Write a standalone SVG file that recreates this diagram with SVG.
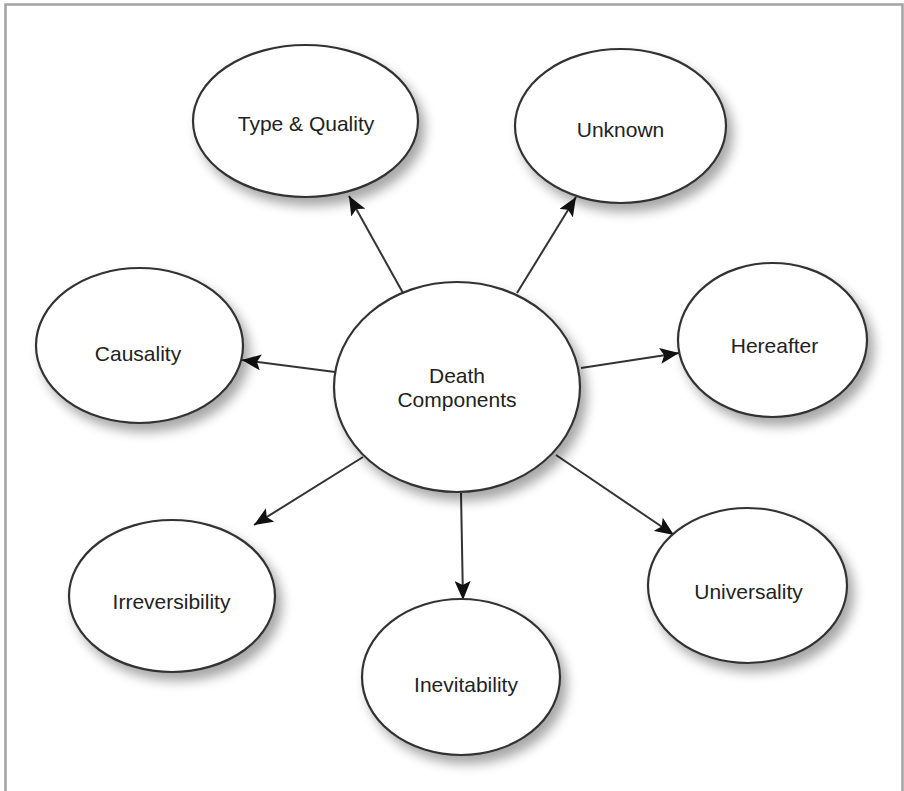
<svg xmlns="http://www.w3.org/2000/svg" width="904" height="791" viewBox="0 0 904 791">
<style>
.node ellipse{fill:#ffffff;stroke:#333333;stroke-width:2.2;filter:url(#sh)}
.node text{font-family:"Liberation Sans",Arial,sans-serif;font-size:21px;fill:#222222;text-anchor:middle}
.conn line{stroke:#333333;stroke-width:2;marker-end:url(#ah)}
</style>
<defs>
<filter id="sh" x="-20%" y="-20%" width="150%" height="150%">
<feGaussianBlur in="SourceAlpha" stdDeviation="6"/>
<feOffset dx="6" dy="8" result="b"/>
<feComponentTransfer><feFuncA type="linear" slope="0.35"/></feComponentTransfer>
<feMerge><feMergeNode/><feMergeNode in="SourceGraphic"/></feMerge>
</filter>
<marker id="ah" markerUnits="userSpaceOnUse" markerWidth="19" markerHeight="16" refX="19" refY="8" orient="auto" viewBox="0 0 19 16">
<path d="M0,0 L19,8 L0,16 L4,8 z" fill="#111111"/>
</marker>
</defs>
<rect width="904" height="791" fill="#ffffff"/>
<g id="frame" fill="none" stroke="#a3a3a3" stroke-width="2.5">
<path d="M5.5,791 L5.5,4.5 L902.5,4.5 L902.5,791"/>
</g>
<g id="connectors" class="conn">
<line x1="403" y1="293" x2="349" y2="196"/>
<line x1="517" y1="293" x2="576" y2="197"/>
<line x1="335" y1="372" x2="242" y2="360"/>
<line x1="581" y1="368" x2="679" y2="353"/>
<line x1="556" y1="455" x2="674" y2="535"/>
<line x1="461" y1="493" x2="463" y2="600"/>
<line x1="363" y1="457" x2="254" y2="525"/>
</g>
<g id="type-quality" class="node"><ellipse cx="305.5" cy="121" rx="112.5" ry="76"/><text x="306" y="131">Type &amp; Quality</text></g>
<g id="unknown" class="node"><ellipse cx="620.5" cy="126" rx="105.5" ry="77"/><text x="620.5" y="137">Unknown</text></g>
<g id="causality" class="node"><ellipse cx="139.5" cy="345.5" rx="103.5" ry="77.5"/><text x="138" y="361">Causality</text></g>
<g id="hereafter" class="node"><ellipse cx="772.5" cy="340" rx="94.5" ry="77"/><text x="774.5" y="353">Hereafter</text></g>
<g id="death-components" class="node"><ellipse cx="457" cy="387" rx="123" ry="105"/><text x="457" y="383">Death</text><text x="457" y="407">Components</text></g>
<g id="irreversibility" class="node"><ellipse cx="172" cy="596" rx="103" ry="76"/><text x="171.5" y="609">Irreversibility</text></g>
<g id="inevitability" class="node"><ellipse cx="461" cy="677" rx="99" ry="78"/><text x="466" y="692">Inevitability</text></g>
<g id="universality" class="node"><ellipse cx="747.5" cy="585.5" rx="99.5" ry="77.5"/><text x="748.5" y="599">Universality</text></g>
</svg>
